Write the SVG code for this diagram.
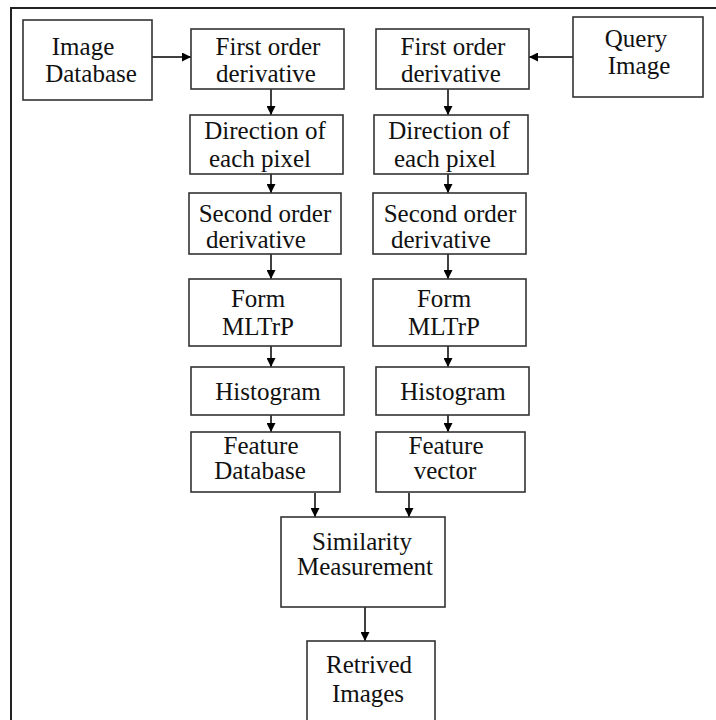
<svg xmlns="http://www.w3.org/2000/svg" width="716" height="720" viewBox="0 0 716 720">
<defs>
<marker id="ah" viewBox="0 0 10 10" refX="10" refY="5" markerWidth="9" markerHeight="9" markerUnits="userSpaceOnUse" orient="auto">
<path d="M0,0 L10,5 L0,10 z" fill="#000"/>
</marker>
<style>
.box{fill:#fff;stroke:#333;stroke-width:1.6}
.t{font-family:"Liberation Serif","Times New Roman",serif;font-size:25px;fill:#111;text-anchor:middle}
.c{stroke:#000;stroke-width:1.5;fill:none;marker-end:url(#ah)}
</style>
</defs>
<rect width="716" height="720" fill="#fff"/>
<path d="M11,720 V8 H716" fill="none" stroke="#222" stroke-width="2"/>

<g id="connectors">
<line class="c" x1="152" y1="57" x2="191" y2="57"/>
<line class="c" x1="573" y1="57" x2="529" y2="57"/>
<line class="c" x1="271" y1="89" x2="271" y2="115"/>
<line class="c" x1="271" y1="174" x2="271" y2="193"/>
<line class="c" x1="271" y1="254" x2="271" y2="279"/>
<line class="c" x1="271" y1="346" x2="271" y2="367"/>
<line class="c" x1="271" y1="415" x2="271" y2="432"/>
<line class="c" x1="448" y1="89" x2="448" y2="115"/>
<line class="c" x1="448" y1="174" x2="448" y2="193"/>
<line class="c" x1="448" y1="254" x2="448" y2="279"/>
<line class="c" x1="448" y1="346" x2="448" y2="367"/>
<line class="c" x1="448" y1="415" x2="448" y2="432"/>
<line class="c" x1="315" y1="493" x2="315" y2="517"/>
<line class="c" x1="409" y1="493" x2="409" y2="517"/>
<line class="c" x1="365" y1="607" x2="365" y2="641"/>
</g>

<g id="image-database">
<rect class="box" x="23" y="20" width="129" height="80"/>
<text class="t" x="83" y="55">Image</text>
<text class="t" x="91" y="82">Database</text>
</g>

<g id="first-order-left">
<rect class="box" x="191" y="29" width="153" height="60"/>
<text class="t" x="268" y="55">First order</text>
<text class="t" x="266" y="82">derivative</text>
</g>

<g id="direction-left">
<rect class="box" x="190" y="115" width="153" height="59"/>
<text class="t" x="265" y="139">Direction of</text>
<text class="t" x="260" y="167">each pixel</text>
</g>

<g id="second-order-left">
<rect class="box" x="189" y="193" width="152" height="61"/>
<text class="t" x="265" y="222">Second order</text>
<text class="t" x="256" y="248">derivative</text>
</g>

<g id="mltrp-left">
<rect class="box" x="189" y="279" width="152" height="67"/>
<text class="t" x="258" y="307">Form</text>
<text class="t" x="258" y="335">MLTrP</text>
</g>

<g id="histogram-left">
<rect class="box" x="191" y="367" width="153" height="48"/>
<text class="t" x="268" y="400">Histogram</text>
</g>

<g id="feature-database">
<rect class="box" x="191" y="432" width="149" height="60"/>
<text class="t" x="261" y="454">Feature</text>
<text class="t" x="260" y="479">Database</text>
</g>

<g id="query-image">
<rect class="box" x="573" y="17" width="130" height="80"/>
<text class="t" x="636" y="47">Query</text>
<text class="t" x="639" y="74">Image</text>
</g>

<g id="first-order-right">
<rect class="box" x="376" y="29" width="153" height="60"/>
<text class="t" x="453" y="55">First order</text>
<text class="t" x="451" y="82">derivative</text>
</g>

<g id="direction-right">
<rect class="box" x="374" y="115" width="154" height="59"/>
<text class="t" x="449" y="139">Direction of</text>
<text class="t" x="445" y="167">each pixel</text>
</g>

<g id="second-order-right">
<rect class="box" x="373" y="193" width="153" height="61"/>
<text class="t" x="450" y="222">Second order</text>
<text class="t" x="441" y="248">derivative</text>
</g>

<g id="mltrp-right">
<rect class="box" x="373" y="279" width="153" height="67"/>
<text class="t" x="444" y="307">Form</text>
<text class="t" x="444" y="335">MLTrP</text>
</g>

<g id="histogram-right">
<rect class="box" x="376" y="367" width="153" height="48"/>
<text class="t" x="453" y="400">Histogram</text>
</g>

<g id="feature-vector">
<rect class="box" x="376" y="432" width="149" height="60"/>
<text class="t" x="446" y="454">Feature</text>
<text class="t" x="445" y="479">vector</text>
</g>

<g id="similarity">
<rect class="box" x="281" y="517" width="164" height="90"/>
<text class="t" x="362" y="550">Similarity</text>
<text class="t" x="365" y="575">Measurement</text>
</g>

<g id="retrived-images">
<rect class="box" x="307" y="641" width="128" height="90"/>
<text class="t" x="369" y="673">Retrived</text>
<text class="t" x="368" y="702">Images</text>
</g>
</svg>
